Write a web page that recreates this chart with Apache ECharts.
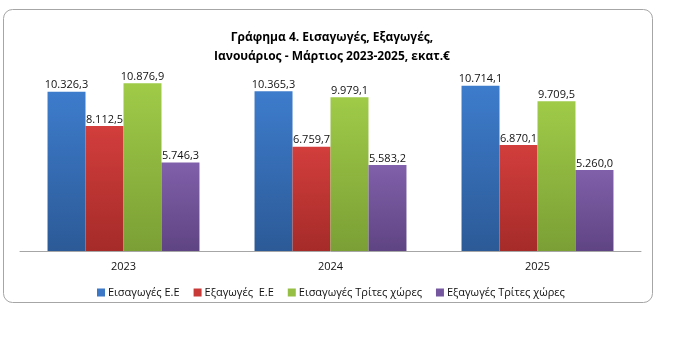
<!DOCTYPE html>
<html>
<head>
<meta charset="utf-8">
<script src="https://cdn.jsdelivr.net/npm/echarts@6/dist/echarts.min.js"></script>
<style>html,body{margin:0;padding:0;background:#fff;}#c{width:681px;height:360px;}</style>
</head>
<body>
<div id="c"></div>
<script>
var categories = ['2023', '2024', '2025'];
var seriesNames = ['Εισαγωγές Ε.Ε', 'Εξαγωγές  Ε.Ε', 'Εισαγωγές Τρίτες χώρες', 'Εξαγωγές Τρίτες χώρες'];
var importsEU = [10326.3, 10365.3, 10714.1];
var exportsEU = [8112.5, 6759.7, 6870.1];
var importsThird = [10876.9, 9979.1, 9709.5];
var exportsThird = [5746.3, 5583.2, 5260.0];
var titleText = 'Γράφημα 4. Εισαγωγές, Εξαγωγές,\nΙανουάριος - Μάρτιος 2023-2025, εκατ.€';

var FONT = 'Open Sans';
function grad(top, bottom) {
  return new echarts.graphic.LinearGradient(0, 0, 0, 1, [{offset: 0, color: top}, {offset: 1, color: bottom}]);
}
var colors = [
  grad('#3d7ccc', '#2c5a97'),
  grad('#d23e3c', '#a52b29'),
  grad('#9fcb48', '#7b9f35'),
  grad('#8060aa', '#5f4483')
];
var legendColors = ['#3c78c6', '#c83a38', '#96bf45', '#7557a0'];
function fmt(v) {
  var s = v.toFixed(1).split('.');
  var intPart = s[0].replace(/\B(?=(\d{3})+(?!\d))/g, '.');
  return intPart + ',' + s[1];
}
var dataSets = [importsEU, exportsEU, importsThird, exportsThird];
var series = dataSets.map(function (d, i) {
  return {
    name: seriesNames[i],
    type: 'bar',
    data: d,
    barGap: '0%',
    barCategoryGap: '26.6%',
    itemStyle: {color: colors[i]},
    label: {
      show: true,
      position: 'top',
      distance: 1,
      formatter: function (p) { return fmt(p.value); },
      fontFamily: FONT,
      fontSize: 11,
      color: '#111'
    }
  };
});

var chart = echarts.init(document.getElementById('c'), null, {renderer: 'canvas'});
chart.setOption({
  backgroundColor: '#fff',
  animation: false,
  color: legendColors,
  graphic: [{
    type: 'rect',
    shape: {x: 3.5, y: 9.5, width: 649, height: 293, r: 9},
    style: {fill: 'none', stroke: '#a6a6a6', lineWidth: 1},
    silent: true,
    z: -1
  }],
  title: {
    text: titleText,
    left: 327,
    textAlign: 'center',
    top: 23,
    textStyle: {fontFamily: FONT, fontSize: 12, fontWeight: 'bold', color: '#000', lineHeight: 19}
  },
  legend: {
    data: seriesNames.map(function (n, i) { return {name: n, itemStyle: {color: legendColors[i]}}; }),
    left: 92,
    top: 282,
    itemWidth: 8,
    itemHeight: 8,
    itemGap: 14,
    icon: 'rect',
    textStyle: {fontFamily: FONT, fontSize: 11, color: '#111', padding: [0, 0, 0, -2]}
  },
  grid: {left: 20, right: 40, top: 66, bottom: 109, containLabel: false},
  xAxis: {
    type: 'category',
    data: categories,
    axisLine: {show: true, lineStyle: {color: '#a6a6a6', width: 1}},
    axisTick: {show: false},
    axisLabel: {fontFamily: FONT, fontSize: 11, color: '#111', margin: 10}
  },
  yAxis: {
    type: 'value',
    min: 0,
    max: 12000,
    show: false,
    splitLine: {show: false}
  },
  series: series
});
</script>
</body>
</html>
